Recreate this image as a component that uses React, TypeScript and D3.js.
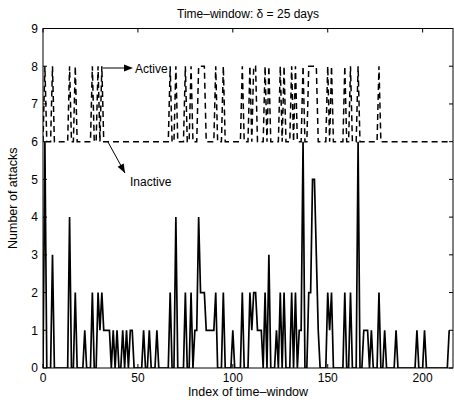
import React from "react";
import * as d3 from "d3";

// Number of attacks per time-window (index 0..214)
const attacks: number[] = [
  0, 6, 0, 0, 0, 3, 0, 0, 0, 0, 0, 0, 0, 0, 4, 0, 0, 2, 0, 0,
  0, 0, 1, 0, 0, 0, 2, 0, 0, 2, 1, 2, 1, 1, 1, 1, 0, 1, 0, 1,
  0, 0, 1, 0, 1, 0, 1, 1, 0, 0, 0, 0, 0, 1, 0, 0, 1, 0, 0, 0,
  1, 0, 0, 0, 0, 0, 0, 2, 0, 0, 4, 0, 0, 0, 0, 2, 0, 0, 2, 0,
  1, 1, 4, 2, 2, 2, 1, 1, 1, 1, 1, 2, 0, 0, 0, 2, 0, 0, 0, 0,
  1, 0, 0, 0, 0, 2, 0, 0, 0, 2, 1, 2, 2, 1, 1, 1, 0, 2, 0, 3,
  0, 0, 0, 1, 0, 2, 0, 2, 0, 0, 0, 2, 0, 2, 0, 1, 1, 6, 0, 0,
  2, 2, 5, 5, 3, 1, 0, 0, 0, 0, 2, 1, 2, 0, 0, 0, 0, 0, 0, 2,
  0, 0, 2, 0, 0, 0, 6, 0, 0, 1, 1, 1, 0, 1, 0, 0, 0, 2, 0, 0,
  1, 0, 0, 0, 0, 0, 1, 0, 0, 0, 0, 0, 0, 0, 0, 0, 0, 1, 0, 0,
  0, 1, 0, 0, 0, 0, 0, 0, 0, 0, 0, 0, 0, 0, 1,
];

// Windows flagged as "active" (indicator drawn at level 8, otherwise 6)
const activeWindows: number[] = [
  1, 5, 14, 17, 26, 29, 31, 67, 70, 75, 78, 82, 83, 84, 85, 91, 95, 105,
  109, 111, 112, 117, 119, 125, 127, 131, 133, 137, 140, 141, 142, 143, 144,
  150, 152, 159, 162, 166, 177,
];
const ACTIVE_LEVEL = 8;
const INACTIVE_LEVEL = 6;

const xTicks: number[] = [0, 50, 100, 150, 200];
const yTicks: number[] = [0, 1, 2, 3, 4, 5, 6, 7, 8, 9];

const titleText = "Time\u2013window: \u03b4 = 25 days";
const xLabelText = "Index of time\u2013window";
const yLabelText = "Number of attacks";

export default function App() {
  const W = 454;
  const H = 400;
  const left = 43;
  const right = 453;
  const top = 28.5;
  const bottom = 368;

  const x = d3.scaleLinear().domain([0, 216]).range([left, right]);
  const y = d3.scaleLinear().domain([0, 9]).range([bottom, top]);

  const activeSet = new Set(activeWindows);
  const indicator = attacks.map((_, i) =>
    activeSet.has(i) ? ACTIVE_LEVEL : INACTIVE_LEVEL
  );

  const line = d3
    .line<number>()
    .x((_, i) => x(i))
    .y((d) => y(d));

  const font = "'Liberation Sans', Arial, Helvetica, sans-serif";
  const tickLen = 4;

  const arrowHead = (x1: number, y1: number, x2: number, y2: number) => {
    const ang = Math.atan2(y2 - y1, x2 - x1);
    const L = 9;
    const Wd = 3.5;
    const bx = x2 - L * Math.cos(ang);
    const by = y2 - L * Math.sin(ang);
    const px = -Math.sin(ang) * Wd;
    const py = Math.cos(ang) * Wd;
    return `M${x2},${y2}L${bx + px},${by + py}L${bx - px},${by - py}Z`;
  };

  const a1 = { x1: 103, y1: 68, x2: 133, y2: 68 };
  const a2 = { x1: 108, y1: 142, x2: 125, y2: 173 };

  return (
    <svg
      width={W}
      height={H}
      style={{ position: "absolute", left: 0, top: 0, background: "#fff" }}
      fontFamily={font}
    >
      <rect x={0} y={0} width={W} height={H} fill="#fff" />
      <defs>
        <clipPath id="plotclip">
          <rect x={left} y={top} width={right - left} height={bottom - top} />
        </clipPath>
      </defs>

      {/* data */}
      <g clipPath="url(#plotclip)">
        <path
          d={line(indicator) || ""}
          fill="none"
          stroke="#000"
          strokeWidth={1.5}
          strokeDasharray="6,4"
        />
        <path
          d={line(attacks) || ""}
          fill="none"
          stroke="#000"
          strokeWidth={1.7}
          strokeLinejoin="miter"
        />
      </g>

      {/* frame */}
      <rect
        x={left}
        y={top}
        width={right - left}
        height={bottom - top}
        fill="none"
        stroke="#000"
        strokeWidth={1}
      />

      {/* x ticks */}
      {xTicks.map((t) => (
        <g key={"xt" + t}>
          <line x1={x(t)} x2={x(t)} y1={bottom} y2={bottom - tickLen} stroke="#000" />
          <line x1={x(t)} x2={x(t)} y1={top} y2={top + tickLen} stroke="#000" />
          <text x={x(t)} y={382} textAnchor="middle" fontSize={12} fill="#000">
            {t}
          </text>
        </g>
      ))}

      {/* y ticks */}
      {yTicks.map((t) => (
        <g key={"yt" + t}>
          <line x1={left} x2={left + tickLen} y1={y(t)} y2={y(t)} stroke="#000" />
          <line x1={right} x2={right - tickLen} y1={y(t)} y2={y(t)} stroke="#000" />
          <text x={38} y={y(t) + 4.3} textAnchor="end" fontSize={12} fill="#000">
            {t}
          </text>
        </g>
      ))}

      {/* titles */}
      <text x={248} y={17.5} textAnchor="middle" fontSize={12} fill="#000">
        {titleText}
      </text>
      <text x={248} y={396} textAnchor="middle" fontSize={12.5} fill="#000">
        {xLabelText}
      </text>
      <text
        transform={`translate(17,${(top + bottom) / 2}) rotate(-90)`}
        textAnchor="middle"
        fontSize={12.5}
        fill="#000"
      >
        {yLabelText}
      </text>

      {/* annotations */}
      <line x1={a1.x1} y1={a1.y1} x2={a1.x2 - 4} y2={a1.y2} stroke="#000" strokeWidth={1} />
      <path d={arrowHead(a1.x1, a1.y1, a1.x2, a1.y2)} fill="#000" />
      <text x={135} y={72.5} fontSize={12} fill="#000">
        Active
      </text>
      <line x1={a2.x1} y1={a2.y1} x2={a2.x2} y2={a2.y2} stroke="#000" strokeWidth={1} />
      <path d={arrowHead(a2.x1, a2.y1, a2.x2, a2.y2)} fill="#000" />
      <text x={130} y={186} fontSize={12} fill="#000">
        Inactive
      </text>
    </svg>
  );
}
